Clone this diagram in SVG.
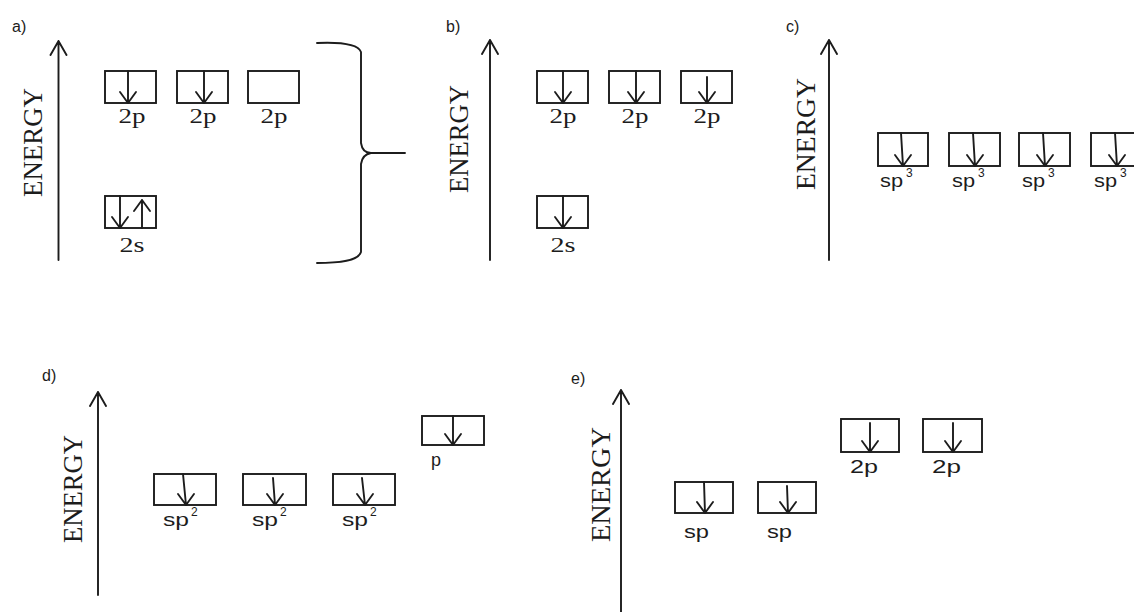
<svg xmlns="http://www.w3.org/2000/svg" width="1134" height="612" viewBox="0 0 1134 612">
<style>
.ln{fill:none;stroke:#1c1c1c;stroke-width:1.9;stroke-linecap:round;stroke-linejoin:round}
.box{fill:none;stroke:#1c1c1c;stroke-width:1.9}
.en{font-family:"Liberation Serif",serif;font-size:27px;fill:#1c1c1c}
.sl{font-family:"Liberation Serif",serif;font-size:20px;fill:#1c1c1c}
.ss{font-family:"Liberation Sans",Arial,sans-serif;font-size:18px;fill:#1c1c1c}
.sup{font-family:"Liberation Sans",Arial,sans-serif;font-size:12px;fill:#1c1c1c}
.pl{font-family:"Liberation Sans",Arial,sans-serif;font-size:16px;fill:#1c1c1c}
</style>
<rect width="1134" height="612" fill="#ffffff"/>

<!-- Panel labels -->
<g id="labels">
<text class="pl" x="12" y="32">a)</text>
<text class="pl" x="446" y="32">b)</text>
<text class="pl" x="786" y="32">c)</text>
<text class="pl" x="42" y="381">d)</text>
<text class="pl" x="571" y="384">e)</text>
</g>

<!-- Energy axes -->
<g id="axes">
<path class="ln" d="M58.5,260 V41 M50.5,55 L58.5,41 L66.5,55"/>
<path class="ln" d="M490,260 V40 M482,54 L490,40 L498,54"/>
<path class="ln" d="M829,260 V40 M821,54 L829,40 L837,54"/>
<path class="ln" d="M98,595 V392 M90,406 L98,392 L106,406"/>
<path class="ln" d="M621,612 V390 M613,404 L621,390 L629,404"/>
<text class="en" transform="translate(42,142.5) rotate(-90)" text-anchor="middle" textLength="109" lengthAdjust="spacingAndGlyphs">ENERGY</text>
<text class="en" transform="translate(468,139) rotate(-90)" text-anchor="middle" textLength="108" lengthAdjust="spacingAndGlyphs">ENERGY</text>
<text class="en" transform="translate(815,134) rotate(-90)" text-anchor="middle" textLength="112" lengthAdjust="spacingAndGlyphs">ENERGY</text>
<text class="en" transform="translate(82,489) rotate(-90)" text-anchor="middle" textLength="108" lengthAdjust="spacingAndGlyphs">ENERGY</text>
<text class="en" transform="translate(610,484.5) rotate(-90)" text-anchor="middle" textLength="115" lengthAdjust="spacingAndGlyphs">ENERGY</text>
</g>

<!-- Brace connector -->
<g id="connectors">
<path class="ln" d="M317,43 C340,42 358,44 361,52 L361,143 C362,150 365,153 371,153 L405,153 M371,153 C365,154 362,157 361,164 L361,252 C358,261 340,263 317,263"/>
</g>

<!-- Panel a -->
<g id="a-2p1"><rect class="box" x="105" y="71" width="51" height="32"/><path class="ln" d="M128,71 V103 M120,92 L128,103 L136,92"/><text class="sl" x="132" y="123" text-anchor="middle" textLength="27" lengthAdjust="spacingAndGlyphs">2p</text></g>
<g id="a-2p2"><rect class="box" x="177" y="71" width="51" height="32"/><path class="ln" d="M204,71 V103 M196,92 L204,103 L212,92"/><text class="sl" x="203" y="123" text-anchor="middle" textLength="27" lengthAdjust="spacingAndGlyphs">2p</text></g>
<g id="a-2p3"><rect class="box" x="248" y="71" width="51" height="32"/><text class="sl" x="274" y="123" text-anchor="middle" textLength="27" lengthAdjust="spacingAndGlyphs">2p</text></g>
<g id="a-2s"><rect class="box" x="105" y="196" width="51" height="32"/><path class="ln" d="M120,196 V228 M112,217 L120,228 L128,217 M142,228 V200 M134,211 L142,200 L150,211"/><text class="sl" x="132" y="252" text-anchor="middle" textLength="25" lengthAdjust="spacingAndGlyphs">2s</text></g>

<!-- Panel b -->
<g id="b-2p1"><rect class="box" x="537" y="71" width="51" height="32"/><path class="ln" d="M563,71 V103 M555,92 L563,103 L571,92"/><text class="sl" x="563" y="123" text-anchor="middle" textLength="27" lengthAdjust="spacingAndGlyphs">2p</text></g>
<g id="b-2p2"><rect class="box" x="609" y="71" width="51" height="32"/><path class="ln" d="M636,71 V103 M628,92 L636,103 L644,92"/><text class="sl" x="635" y="123" text-anchor="middle" textLength="27" lengthAdjust="spacingAndGlyphs">2p</text></g>
<g id="b-2p3"><rect class="box" x="681" y="71" width="51" height="32"/><path class="ln" d="M707,77 V103 M699,92 L707,103 L715,92"/><text class="sl" x="707" y="123" text-anchor="middle" textLength="27" lengthAdjust="spacingAndGlyphs">2p</text></g>
<g id="b-2s"><rect class="box" x="537" y="196" width="51" height="32"/><path class="ln" d="M563,196 V228 M555,217 L563,228 L571,217"/><text class="sl" x="563" y="252" text-anchor="middle" textLength="25" lengthAdjust="spacingAndGlyphs">2s</text></g>

<!-- Panel c -->
<g id="c-sp3-1"><rect class="box" x="878" y="133" width="50" height="33"/><path class="ln" d="M901,133 L903,166 M895,155 L903,166 L911,155"/><text class="ss" x="880" y="187" textLength="23" lengthAdjust="spacingAndGlyphs">sp</text><text class="sup" x="906" y="177">3</text></g>
<g id="c-sp3-2"><rect class="box" x="949" y="133" width="51" height="33"/><path class="ln" d="M973,133 L975,166 M967,155 L975,166 L983,155"/><text class="ss" x="952" y="187" textLength="23" lengthAdjust="spacingAndGlyphs">sp</text><text class="sup" x="978" y="177">3</text></g>
<g id="c-sp3-3"><rect class="box" x="1019" y="133" width="51" height="33"/><path class="ln" d="M1043,133 L1045,166 M1037,155 L1045,166 L1053,155"/><text class="ss" x="1022" y="187" textLength="23" lengthAdjust="spacingAndGlyphs">sp</text><text class="sup" x="1048" y="177">3</text></g>
<g id="c-sp3-4"><rect class="box" x="1091" y="133" width="51" height="33"/><path class="ln" d="M1115,133 L1117,166 M1109,155 L1117,166 L1125,155"/><text class="ss" x="1094" y="187" textLength="23" lengthAdjust="spacingAndGlyphs">sp</text><text class="sup" x="1120" y="177">3</text></g>

<!-- Panel d -->
<g id="d-sp2-1"><rect class="box" x="154" y="474" width="62" height="31"/><path class="ln" d="M183,474 L186,505 M178,494 L186,505 L194,494"/><text class="ss" x="163" y="526" textLength="26" lengthAdjust="spacingAndGlyphs">sp</text><text class="sup" x="191" y="516">2</text></g>
<g id="d-sp2-2"><rect class="box" x="243" y="474" width="63" height="31"/><path class="ln" d="M273,478 L275,505 M267,494 L275,505 L283,494"/><text class="ss" x="252" y="526" textLength="26" lengthAdjust="spacingAndGlyphs">sp</text><text class="sup" x="280" y="516">2</text></g>
<g id="d-sp2-3"><rect class="box" x="333" y="474" width="62" height="31"/><path class="ln" d="M362,478 L365,505 M357,494 L365,505 L373,494"/><text class="ss" x="342" y="526" textLength="26" lengthAdjust="spacingAndGlyphs">sp</text><text class="sup" x="370" y="516">2</text></g>
<g id="d-p"><rect class="box" x="422" y="416" width="62" height="29"/><path class="ln" d="M453,416 V445 M445,434 L453,445 L461,434"/><text class="ss" x="431" y="466">p</text></g>

<!-- Panel e -->
<g id="e-sp1"><rect class="box" x="675" y="482" width="58" height="31"/><path class="ln" d="M704,482 L705,513 M697,502 L705,513 L713,502"/><text class="ss" x="684" y="538" textLength="25" lengthAdjust="spacingAndGlyphs">sp</text></g>
<g id="e-sp2"><rect class="box" x="758" y="482" width="58" height="31"/><path class="ln" d="M787,486 L788,513 M780,502 L788,513 L796,502"/><text class="ss" x="767" y="538" textLength="25" lengthAdjust="spacingAndGlyphs">sp</text></g>
<g id="e-2p1"><rect class="box" x="841" y="419" width="58" height="33"/><path class="ln" d="M870,423 V452 M862,441 L870,452 L878,441"/><text class="ss" x="850" y="473" textLength="28" lengthAdjust="spacingAndGlyphs">2p</text></g>
<g id="e-2p2"><rect class="box" x="923" y="419" width="59" height="33"/><path class="ln" d="M953,423 V452 M945,441 L953,452 L961,441"/><text class="ss" x="932" y="473" textLength="29" lengthAdjust="spacingAndGlyphs">2p</text></g>
</svg>
